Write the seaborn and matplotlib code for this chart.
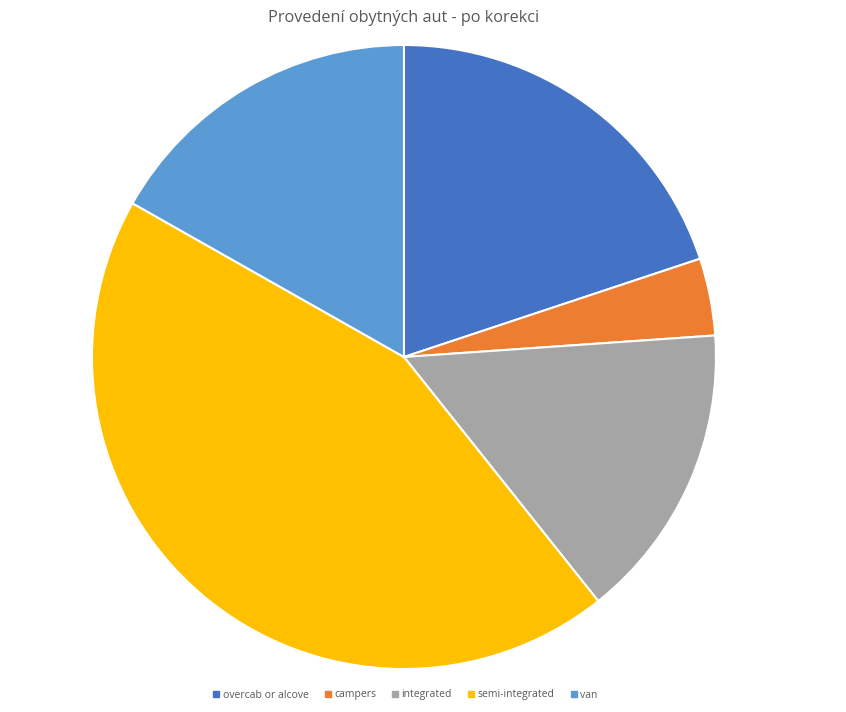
import matplotlib
matplotlib.use("Agg")
import matplotlib.pyplot as plt
from matplotlib.lines import Line2D
import seaborn as sns

# ============================================
# Data (shares, %)
# ============================================
categories = ["overcab or alcove", "campers", "integrated", "semi-integrated", "van"]
shares = [19.9, 4.0, 15.4, 43.9, 16.8]
colors = ["#4472C4", "#ED7D31", "#A5A5A5", "#FFC000", "#5B9BD5"]
title = "Provedení obytných aut - po korekci"

sns.set_theme(style="white")
plt.rcParams["font.family"] = ["Open Sans", "DejaVu Sans"]

fig = plt.figure(figsize=(8.46, 7.12), dpi=100)
fig.patch.set_facecolor("white")

# square axes so the pie sits where it does in the reference
ax = fig.add_axes([0.1087, 0.0604, 0.7376, 0.8764])
ax.pie(shares,
       colors=sns.color_palette(colors),
       startangle=90,
       counterclock=False,
       radius=1.0,
       wedgeprops=dict(edgecolor="white", linewidth=1.5))
ax.set_xlim(-1, 1)
ax.set_ylim(-1, 1)
ax.set_aspect("auto")
ax.axis("off")

fig.text(0.4775, 1 - 18.5 / 712, title, ha="center", va="center",
         fontsize=11.7, color="#595959")

handles = [Line2D([0], [0], marker="s", linestyle="", markersize=4.5,
                  markerfacecolor=c, markeredgecolor=c) for c in colors]
fig.legend(handles, categories, loc="center", ncol=5,
           bbox_to_anchor=(0.479, 1 - 695 / 712), frameon=False,
           fontsize=7.5, labelcolor="#595959", handlelength=0.6,
           handletextpad=0.3, columnspacing=1.55)

fig.savefig("out.png", dpi=100, facecolor="white")
plt.close(fig)
